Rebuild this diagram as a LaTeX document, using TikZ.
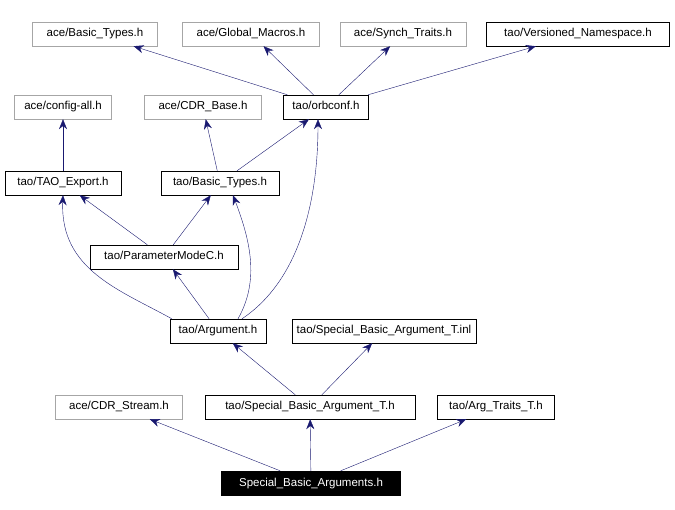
\documentclass[tikz,border=0pt]{standalone}
\usepackage{fontspec}
\setmainfont{Liberation Sans}
\usetikzlibrary{arrows.meta}
\definecolor{edgeblue}{RGB}{25,25,112}
\tikzset{
  hdr/.style={draw=black,fill=white,inner sep=0pt,minimum height=24pt,text height=8.5pt,text depth=2.5pt,font=\fontsize{11.5}{13}\selectfont},
  sys/.style={hdr,draw=black!35},
  top/.style={hdr,fill=black,text=white},
  dep/.style={draw=edgeblue,-{Stealth[length=10pt,width=8pt]}}
}
\begin{document}
\begin{tikzpicture}[x=1pt,y=-1pt]
\useasboundingbox (0,0) rectangle (675,510);
\node[sys,minimum width=125pt] (aceBT) at (95,34) {ace/Basic\_Types.h};
\node[sys,minimum width=137pt] (aceGM) at (251,34) {ace/Global\_Macros.h};
\node[sys,minimum width=126pt] (aceST) at (403,34) {ace/Synch\_Traits.h};
\node[hdr,minimum width=183pt] (taoVN) at (578,34) {tao/Versioned\_Namespace.h};
\node[sys,minimum width=97pt] (aceCA) at (63,107) {ace/config-all.h};
\node[sys,minimum width=117pt] (aceCB) at (203,107) {ace/CDR\_Base.h};
\node[hdr,minimum width=85pt] (taoOC) at (326,107) {tao/orbconf.h};
\node[hdr,minimum width=116pt] (taoTE) at (63,183) {tao/TAO\_Export.h};
\node[hdr,minimum width=118pt] (taoBT) at (220,183) {tao/Basic\_Types.h};
\node[hdr,minimum width=148pt] (taoPM) at (164,257) {tao/ParameterModeC.h};
\node[hdr,minimum width=96pt] (taoAR) at (218,331) {tao/Argument.h};
\node[hdr,minimum width=184pt] (taoSI) at (384,331) {tao/Special\_Basic\_Argument\_T.inl};
\node[sys,minimum width=127pt] (aceCS) at (119,407) {ace/CDR\_Stream.h};
\node[hdr,minimum width=210pt] (taoSH) at (310,407) {tao/Special\_Basic\_Argument\_T.h};
\node[hdr,minimum width=117pt] (taoAT) at (496,407) {tao/Arg\_Traits\_T.h};
\node[top,minimum width=179pt] (sba) at (311,483) {Special\_Basic\_Arguments.h};
% orbconf
\draw[dep] (taoOC) -- (aceBT);
\draw[dep] (taoOC) -- (aceGM);
\draw[dep] (taoOC) -- (aceST);
\draw[dep] (taoOC) -- (taoVN);
\draw[dep] (taoTE) -- (aceCA);
\draw[dep] (taoBT) -- (aceCB);
\draw[dep] (taoBT) -- (taoOC);
\draw[dep] (taoPM) -- (taoTE);
\draw[dep] (taoPM) -- (taoBT);
% argument
\draw[dep] (taoAR) -- (taoPM);
\draw[dep] (taoAR.north west) ++(2,0) .. controls (120,290) and (60,270) .. (taoTE.south);
\draw[dep] (taoAR.north) ++(20,0) .. controls (260,280) and (250,240) .. ([xshift=13pt]taoBT.south);
\draw[dep] (taoAR.north) ++(24,0) .. controls (300,280) and (318,200) .. ([xshift=-8pt]taoOC.south);
\draw[dep] (taoSH) -- (taoAR);
\draw[dep] (taoSH) -- (taoSI);
\draw[dep] (sba) -- (aceCS);
\draw[dep] (sba) -- (taoSH);
\draw[dep] (sba) -- (taoAT);
\end{tikzpicture}
\end{document}
